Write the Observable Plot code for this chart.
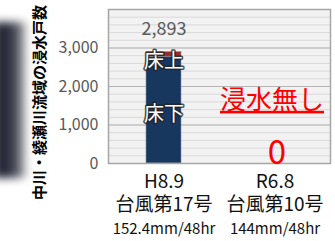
<!DOCTYPE html>
<html><head><meta charset="utf-8">
<script src="https://cdn.jsdelivr.net/npm/d3@7"></script>
<script src="https://cdn.jsdelivr.net/npm/@observablehq/plot@0.6"></script>
<style>
html,body{margin:0;padding:0;background:#fff;}
#wrap{position:relative;width:335px;height:241px;overflow:hidden;}
#photo{position:absolute;left:-6px;top:22px;width:34px;height:156px;
 background:linear-gradient(to right,#1c1e2c 0%,#2f3140 45%,#6a6b74 75%,rgba(255,255,255,0) 100%);
 filter:blur(4px);}
#chart{position:absolute;left:0;top:0;}
</style></head>
<body><div id="wrap"><div id="photo"></div><div id="chart"></div></div>
<script>
const categories = ["H8.9", "R6.8"];
const typhoonNames = ["台風第17号", "台風第10号"];
const rainfall = ["152.4mm/48hr", "144mm/48hr"];
const floorBelow = [2773, 0];   // 床下
const floorAbove = [120, 0];    // 床上
const totals = [2893, 0];
const yTicks = [0, 1000, 2000, 3000];
const yMax = 4000;
const minorStep = 200;
const title = "中川・綾瀬川流域の浸水戸数";

const stacked = [];
categories.forEach((c, i) => {
  stacked.push({cat: c, type: "床下", value: floorBelow[i]});
  stacked.push({cat: c, type: "床上", value: floorAbove[i]});
});
const minorTicks = d3.range(0, yMax + 1, minorStep);
const font = "Noto Sans CJK JP";

const plot = Plot.plot({
  width: 335, height: 241,
  marginLeft: 108, marginRight: 5, marginTop: 9, marginBottom: 78,
  style: {fontFamily: font, background: "transparent", overflow: "visible"},
  x: {domain: categories, paddingInner: 0.685, paddingOuter: 0.3425, axis: null},
  y: {domain: [0, yMax], axis: null},
  color: {domain: ["床下", "床上"], range: ["#17375e", "#962d2d"]},
  marks: [
    Plot.frame({fill: "#f2f2f2"}),
    Plot.ruleY(minorTicks, {stroke: "#d9d9d9", strokeWidth: 1}),
    Plot.ruleY(yTicks, {stroke: "#b4b4b4", strokeWidth: 1}),
    Plot.barY(stacked, {x: "cat", y: "value", fill: "type", order: ["床下", "床上"], stroke: "#8a9099", strokeWidth: 0.6}),
    Plot.frame({stroke: "#a6a6a6", strokeWidth: 1.5}),
    Plot.axisY(yTicks, {tickSize: 0, tickPadding: 10, tickFormat: d3.format(","), label: null, fontSize: 16, fill: "#595959", color: "#595959"}),
    Plot.text([0], {x: () => categories[0], y: () => totals[0], text: () => d3.format(",")(totals[0]), dy: -23, fontSize: 18, fill: "#595959"}),
    Plot.text([0], {x: () => categories[0], y: () => totals[0], text: () => "床上", dy: 9, fontSize: 20, fill: "white", stroke: "#222", strokeWidth: 3, strokeOpacity: 0.8}),
    Plot.text([0], {x: () => categories[0], y: () => floorBelow[0] / 2, text: () => "床下", dy: 4, fontSize: 20, fill: "white", stroke: "#222", strokeWidth: 3, strokeOpacity: 0.8}),
    Plot.text([1], {x: i => categories[i], y: i => totals[i], text: () => "浸水無し", dy: -63, dx: -3, fontSize: 26, fill: "#ff0000"}),
    Plot.text([1], {x: i => categories[i], y: i => totals[i], text: i => String(totals[i]), dy: -10, dx: 2, fontSize: 33, fill: "#ff0000"}),
    Plot.text(categories, {x: d => d, frameAnchor: "bottom", lineAnchor: "middle", text: d => d, dy: 18.5, fontSize: 19, fill: "#111"}),
    Plot.text(categories, {x: d => d, frameAnchor: "bottom", lineAnchor: "middle", text: (d, i) => typhoonNames[i], dy: 41, fontSize: 19, fill: "#111"}),
    Plot.text(categories, {x: d => d, frameAnchor: "bottom", lineAnchor: "middle", text: (d, i) => rainfall[i], dy: 66, fontSize: 15, fill: "#111"}),
    Plot.text([title], {frameAnchor: "left", textAnchor: "middle", lineAnchor: "middle", text: d => d, rotate: -90, dx: -68, dy: 16, fontSize: 15, fontWeight: "bold", fill: "#000"})
  ]
});
document.getElementById("chart").appendChild(plot);
d3.select(plot).selectAll("text").filter(function() { return this.textContent === "浸水無し"; })
  .style("text-decoration", "underline");
</script></body></html>
